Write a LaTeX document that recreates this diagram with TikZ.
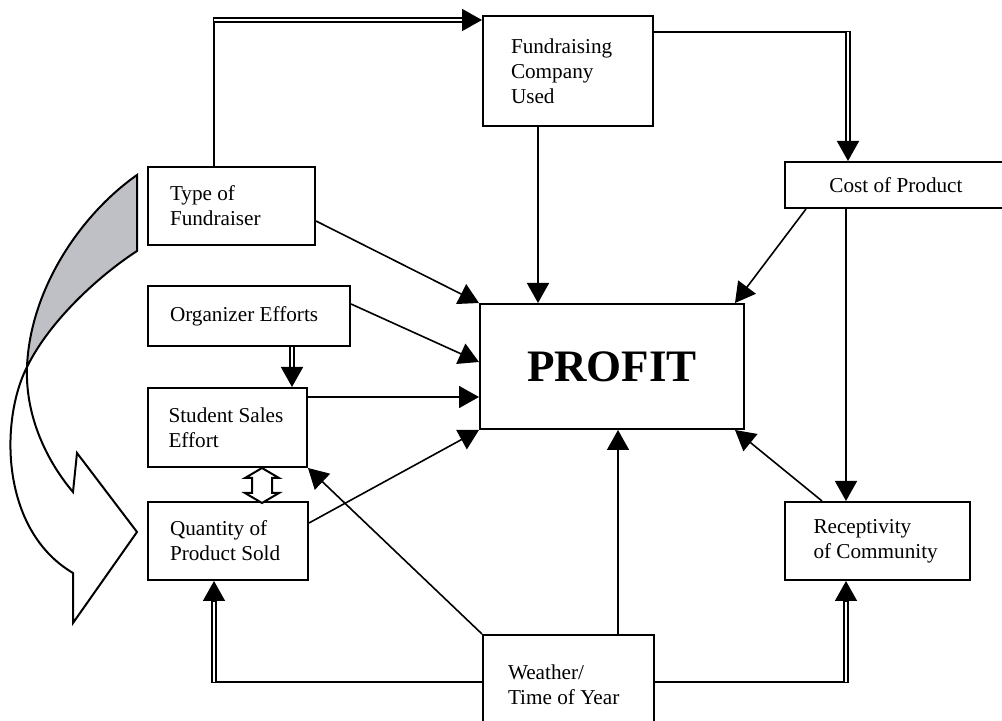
\documentclass[tikz,border=0pt]{standalone}
\usepackage{fontspec}
\setmainfont{Liberation Serif}
\usetikzlibrary{calc,arrows.meta}
\definecolor{ribbon}{RGB}{190,192,197}

\begin{document}
\begin{tikzpicture}[x=0.5pt, y=-0.5pt,
  box/.style={draw, line width=1pt, anchor=north west, inner ysep=0pt, align=left, font=\fontsize{10.6}{12.5}\selectfont,
    execute at begin node={\spaceskip=0.25em\relax}},
  link/.style={line width=0.8pt},
  arr/.style={line width=0.8pt, -{Triangle[length=10pt, width=11pt]}},
  dbl/.style={double, double distance=1.4pt, line width=0.8pt, shorten >=9pt},
  tip/.style={line width=0.8pt, -{Triangle[length=10pt, width=11pt]}}]

  \useasboundingbox (0,0) rectangle (1002,721);

  % Boxes
  \node[box, inner xsep=14pt, text width=57pt, minimum height=55pt] (FC) at (482,15) {Fundraising\\Company\\Used};
  \node[box, inner xsep=11pt, text width=61.5pt, minimum height=39pt] (TF) at (147,166) {Type of\\Fundraiser};
  \node[box, inner xsep=11pt, text width=79pt, minimum height=30pt] (OE) at (147,285) {Organizer Efforts};
  \node[box, inner xsep=10.25pt, text width=59pt, minimum height=39.5pt] (SS) at (147,387) {Student Sales\\Effort};
  \node[box, inner xsep=11pt, text width=58pt, minimum height=39pt] (QP) at (147,501) {Quantity of\\Product Sold};
  \node[box, minimum width=132pt, minimum height=62.5pt, font=\fontsize{22.5}{26}\selectfont\bfseries] (PR) at (479,303) {PROFIT};
  \node[box, minimum width=111pt, minimum height=23pt] (CP) at (784,161) {Cost of Product};
  \node[box, inner xsep=14.25pt, text width=64pt, minimum height=39pt] (RC) at (784,501) {Receptivity\\of Community};
  \node[box, inner xsep=12.5pt, text width=60.5pt, minimum height=50pt] (WT) at (482,634) {Weather/\\Time of Year};

  % Big curved arrow on the left
  \filldraw[line width=1pt, fill=ribbon] (137,175) .. controls (80,215) and (30,290) .. (27,367)
    .. controls (50,320) and (100,275) .. (137,251) -- cycle;
  \filldraw[line width=1pt, fill=white] (27,367) .. controls (25,420) and (50,465) .. (73,492)
    -- (77,453) -- (137,532) -- (73,623) -- (73,573) .. controls (0,530) and (0,420) .. (27,367) -- cycle;

  % Type of fundraiser up to the company (double end)
  \coordinate (tfUp) at ($(TF.north west)+(67,0)$);
  \coordinate (fcIn) at ($(FC.north west)+(0,5)$);
  \coordinate (k1) at (tfUp |- fcIn);
  \draw[link] (tfUp) -- ($(k1)+(0,-3)$);
  \draw[dbl] (k1) -- (fcIn);
  \draw[tip] ($(fcIn)!10pt!(k1)$) -- (fcIn);

  % Company across to cost of product (double end)
  \coordinate (fcOut) at ($(FC.north east)+(0,17)$);
  \coordinate (cpIn) at ($(CP.north west)+(64,0)$);
  \coordinate (k2) at (cpIn |- fcOut);
  \draw[link] (fcOut) -- ($(k2)+(3,0)$);
  \draw[dbl] (k2) -- (cpIn);
  \draw[tip] ($(cpIn)!10pt!(k2)$) -- (cpIn);

  % Organizer efforts down to student sales effort (double)
  \coordinate (oeOut) at ($(OE.south west)+(145,0)$);
  \coordinate (ssIn) at (oeOut |- SS.north);
  \draw[dbl] (oeOut) -- (ssIn);
  \draw[tip] ($(ssIn)!10pt!(oeOut)$) -- (ssIn);

  % Weather out to both sides (double ends)
  \coordinate (wL) at ($(WT.north west)+(0,48)$);
  \coordinate (wR) at ($(WT.north east)+(0,48)$);
  \coordinate (qpIn) at ($(QP.south west)+(67,0)$);
  \coordinate (rcIn) at ($(RC.south west)+(62,0)$);
  \coordinate (k3) at (qpIn |- wL);
  \coordinate (k4) at (rcIn |- wR);
  \draw[link] (wL) -- ($(k3)+(-3,0)$);
  \draw[link] (wR) -- ($(k4)+(3,0)$);
  \draw[dbl] (k3) -- (qpIn);
  \draw[tip] ($(qpIn)!10pt!(k3)$) -- (qpIn);
  \draw[dbl] (k4) -- (rcIn);
  \draw[tip] ($(rcIn)!10pt!(k4)$) -- (rcIn);

  % Arrows into profit
  \coordinate (ssOut) at ($(SS.north east)+(0,10)$);
  \coordinate (fcDown) at ($(FC.south west)+(56,0)$);
  \coordinate (wtUp) at ($(WT.north west)+(136,0)$);
  \draw[arr] ($(TF.north east)+(0,55)$) -- (PR.north west);
  \draw[arr] ($(OE.north east)+(0,19)$) -- ($(PR.north west)+(0,59)$);
  \draw[arr] (ssOut) -- (ssOut -| PR.west);
  \draw[arr] ($(QP.north east)+(0,22)$) -- (PR.south west);
  \draw[arr] (fcDown) -- (fcDown |- PR.north);
  \draw[arr] ($(CP.south west)+(22,0)$) -- ($(PR.north east)+(-10,0)$);
  \draw[arr] (wtUp) -- (wtUp |- PR.south);
  \draw[arr] ($(RC.north west)+(38,0)$) -- ($(PR.south east)+(-10,0)$);

  % Other single arrows
  \coordinate (cpDown) at ($(CP.south west)+(62,0)$);
  \draw[arr] (cpDown) -- (cpDown |- RC.north);
  \draw[arr] (WT.north west) -- (SS.south east);

  % Two-way hollow arrow
  \coordinate (sq) at ($(SS.south west)+(115,0)$);
  \draw[line width=1pt, fill=white] (sq) -- ++(17,10) -- ++(-7,0) -- ++(0,15) -- ++(7,0) -- ++(-17,10)
    -- ++(-17,-10) -- ++(7,0) -- ++(0,-15) -- ++(-7,0) -- cycle;

\end{tikzpicture}
\end{document}
